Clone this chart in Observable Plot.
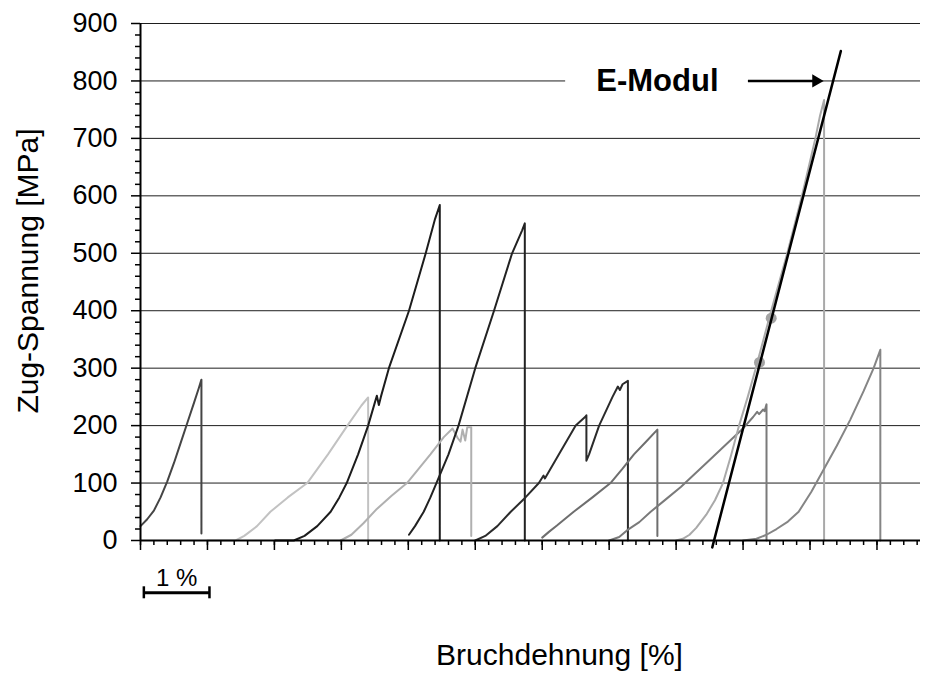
<!DOCTYPE html>
<html><head><meta charset="utf-8">
<script src="https://cdn.jsdelivr.net/npm/d3@7"></script>
<script src="https://cdn.jsdelivr.net/npm/@observablehq/plot@0.6"></script>
<style>body{margin:0;background:#fff;}</style>
</head><body><div id="chart"></div>
<script>
// ---- tick labels / axes ----
const yTicks = [0, 100, 200, 300, 400, 500, 600, 700, 800, 900];
const xMajorTicks = [0, 1, 2, 3, 4, 5, 6, 7, 8, 9, 10, 11];
const yTitle = "Zug-Spannung [MPa]";
const xTitle = "Bruchdehnung [%]";
const scaleBarLabel = "1 %";
const scaleBar = [0.05, 1.03];          // 1 % reference bar (strain, %)
const annotationText = "E-Modul";

// ---- stress-strain curves: [strain %, stress MPa] (curves are offset on the strain axis) ----
const probe1 = [[0,25],[0.1,37],[0.2,52],[0.3,75],[0.4,103],[0.5,135],[0.6,170],[0.7,205],[0.8,240],[0.87,265],[0.91,280],[0.91,12]];
const probe2 = [[1.0,0],[1.42,0],[1.55,8],[1.74,25],[1.94,50],[2.2,75],[2.49,100],[2.8,150],[3.09,200],[3.3,235],[3.4,249],[3.4,0]];
const probe3 = [[2.01,0],[2.29,0],[2.45,8],[2.64,25],[2.84,50],[2.97,75],[3.08,100],[3.25,150],[3.4,200],[3.5,240],[3.53,252],[3.56,236],[3.59,250],[3.71,300],[4.01,400],[4.26,500],[4.4,560],[4.47,584],[4.47,0]];
const probe4 = [[2.99,0],[3.15,10],[3.33,30],[3.53,55],[3.75,78],[3.98,100],[4.33,150],[4.53,180],[4.66,195],[4.74,178],[4.78,172],[4.81,193],[4.85,174],[4.88,197],[4.94,197],[4.94,8]];
const probe5 = [[4.01,10],[4.1,25],[4.23,50],[4.33,75],[4.42,100],[4.6,150],[4.75,200],[5.0,300],[5.28,400],[5.55,500],[5.7,540],[5.74,552],[5.74,0]];
const probe6 = [[5.0,0],[5.15,8],[5.33,25],[5.53,50],[5.75,75],[5.95,100],[6.02,113],[6.04,108],[6.25,150],[6.5,200],[6.64,215],[6.66,218],[6.66,139],[6.7,150],[6.85,200],[7.05,250],[7.13,268],[7.16,262],[7.2,272],[7.28,278],[7.28,0]];
const probe7 = [[6.0,5],[6.1,15],[6.22,26],[6.47,50],[6.75,75],[7.02,100],[7.2,125],[7.37,150],[7.55,172],[7.72,193],[7.72,8]];
const probe8 = [[7.0,0],[7.15,6],[7.27,18],[7.45,32],[7.62,50],[7.85,72],[8.07,93],[8.5,140],[8.99,194],[9.15,215],[9.21,224],[9.24,220],[9.3,228],[9.32,225],[9.35,237],[9.35,0]];
const probe9 = [[8.0,0],[8.1,3],[8.2,10],[8.3,22],[8.45,45],[8.58,70],[8.7,100],[8.82,148],[8.94,200],[9.07,250],[9.19,300],[9.42,400],[9.66,500],[9.88,600],[10.08,700],[10.15,740],[10.21,767],[10.21,0]];
const probe10 = [[9.0,0],[9.2,3],[9.35,10],[9.5,20],[9.67,33],[9.83,50],[10.02,85],[10.21,125],[10.4,165],[10.6,210],[10.8,260],[10.95,300],[11.05,332],[11.05,0]];

// E-Modul fit line and the two fit points on probe 9
const eModulLine = [[8.54,-12],[10.46,852]];
const fitPoints = [[9.245,310],[9.42,387]];
// arrow pointing at the fit line (strain %, stress MPa)
const arrowStart = 9.08, arrowTip = 10.09, arrowStress = 800;
const labelStrain = 7.72;
const labelBox = [{x1: 6.35, x2: 9.08, y1: 788, y2: 813}];

// ---- styles ----
const probes = [probe1, probe2, probe3, probe4, probe5, probe6, probe7, probe8, probe9, probe10];
const probeColors = ["#454545", "#c2c2c2", "#1c1c1c", "#b0b0b0", "#222222", "#2b2b2b", "#6e6e6e", "#7a7a7a", "#a9a9a9", "#858585"];

const yMinor = d3.range(0, 901, 20).filter(v => v % 100 !== 0);
const xMinor = d3.range(0, 11.65, 0.2);

const chart = Plot.plot({
  width: 934, height: 675,
  marginLeft: 140, marginRight: 14, marginTop: 23, marginBottom: 135,
  style: {fontFamily: "'Liberation Sans', Arial, sans-serif", fontSize: "27px", color: "#000", background: "#fff", overflow: "visible"},
  x: {domain: [0, 11.65], label: null},
  y: {domain: [0, 900], label: null},
  marks: [
    Plot.gridY(yTicks.filter(v => v > 0), {stroke: "#1e1e1e", strokeOpacity: 1, strokeWidth: 1}),
    Plot.rect(labelBox, {x1: "x1", x2: "x2", y1: "y1", y2: "y2", fill: "white"}),
    ...probes.map((p, i) => Plot.line(p, {x: d => d[0], y: d => d[1], stroke: probeColors[i], strokeWidth: 2})),
    Plot.dot(fitPoints, {x: d => d[0], y: d => d[1], r: 5.5, fill: "#a3a3a3"}),
    Plot.line(eModulLine, {x: d => d[0], y: d => d[1], stroke: "#000", strokeWidth: 2.5}),
    Plot.ruleY([arrowStress], {x1: arrowStart, x2: arrowTip, stroke: "#000", strokeWidth: 2.5}),
    Plot.dot([arrowStress], {x: arrowTip, y: d => d, symbol: "triangle2", rotate: 90, r: 6.3, fill: "#000", stroke: "none"}),
    Plot.text([annotationText], {x: labelStrain, y: arrowStress, fontSize: 31, fontWeight: "bold", fill: "#000"}),
    Plot.axisY(yTicks, {tickSize: 9, tickPadding: 14, stroke: "#000", strokeWidth: 1.5, label: null}),
    Plot.axisY(yMinor, {tickSize: 5, tickFormat: () => "", stroke: "#000", strokeWidth: 1.5, label: null}),
    Plot.axisX(xMajorTicks, {tickSize: 10, tickFormat: () => "", stroke: "#000", strokeWidth: 1.5, label: null}),
    Plot.axisX(xMinor, {tickSize: 5, tickFormat: () => "", stroke: "#000", strokeWidth: 1.5, label: null}),
    Plot.ruleX([0], {stroke: "#000", strokeWidth: 2}),
    Plot.ruleY([0], {stroke: "#000", strokeWidth: 2}),
    // 1 % scale bar
    Plot.ruleY([0], {x1: scaleBar[0], x2: scaleBar[1], dy: 52.3, stroke: "#000", strokeWidth: 3}),
    Plot.ruleX(scaleBar, {y1: 0, y2: 0, insetTop: -6, insetBottom: -6, dy: 52.3, stroke: "#000", strokeWidth: 2.5}),
    Plot.text([scaleBarLabel], {x: (scaleBar[0] + scaleBar[1]) / 2, y: 0, dy: 37.5, fontSize: 24, fill: "#000"}),
    // axis titles
    Plot.text([yTitle], {frameAnchor: "left", textAnchor: "middle", lineAnchor: "middle", rotate: -90, dx: -112, dy: -11, fontSize: 30, fill: "#000"}),
    Plot.text([xTitle], {frameAnchor: "bottom", textAnchor: "middle", lineAnchor: "middle", dx: 29, dy: 115, fontSize: 30, fill: "#000"})
  ]
});
document.getElementById("chart").appendChild(chart);
</script>
</body></html>
